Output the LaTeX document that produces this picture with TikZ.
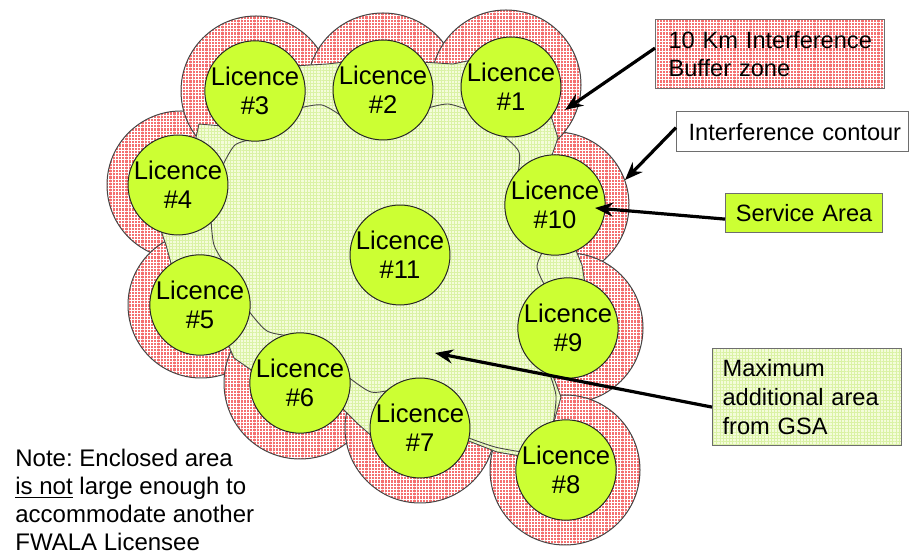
\documentclass[tikz,border=0pt]{standalone}
\usepackage{fontspec}
\setmainfont{Liberation Sans}
\usetikzlibrary{patterns.meta,arrows.meta,calc}

\definecolor{licgreen}{HTML}{CCFF33}
\definecolor{bufred}{RGB}{244,112,112}
\definecolor{areafill}{RGB}{244,252,218}
\definecolor{areagrid}{RGB}{218,242,165}
\definecolor{edgegray}{RGB}{70,70,70}
\definecolor{boxgray}{RGB}{110,110,110}

\tikzset{
  redhatch/.style={preaction={fill=bufred},
    pattern={Hatch[angle=0,distance=1.6pt,line width=0.5pt]}, pattern color=white},
  greenhatch/.style={preaction={fill=areafill},
    pattern={Hatch[angle=0,distance=1.6pt,line width=0.4pt]}, pattern color=areagrid},
  bufferring/.style={redhatch, draw=edgegray, line width=0.5pt},
  areaedge/.style={greenhatch, draw=edgegray, line width=0.45pt},
  licence/.style={circle, draw=black!85, line width=0.5pt, fill=licgreen,
    minimum size=49.5pt, inner sep=0pt, align=center,
    font=\fontsize{12.8}{14.5}\selectfont},
  labelbox/.style={draw=boxgray, line width=0.6pt, anchor=north west,
    inner ysep=0pt, font=\fontsize{11.8}{14}\selectfont},
  pointer/.style={-{Stealth[length=9pt,width=7pt]}, line width=1.6pt, black},
}

\begin{document}
\frenchspacing
\begin{tikzpicture}[x=0.5pt,y=-0.5pt]
\useasboundingbox (0,0) rectangle (910,560);

% centres of the licence service areas
\coordinate (c1)  at (511,87);
\coordinate (c2)  at (383,90);
\coordinate (c3)  at (255,91);
\coordinate (c4)  at (178,185);
\coordinate (c5)  at (200,305);
\coordinate (c6)  at (300,383);
\coordinate (c7)  at (420,428);
\coordinate (c8)  at (566,470);
\coordinate (c9)  at (568,328);
\coordinate (c10) at (555,205);
\coordinate (c11) at (400,255);

% 10 km interference buffer rings (later rings lie on top)
\foreach \x/\y/\r in {556/205/73, 568/328/75, 181/185/74, 201/305/73,
                      300/383/76, 420/428/75, 565/470/75, 256/91/75,
                      383/89/76, 506/85/75}
  \draw[bufferring] (\x,\y) circle[radius=\r];

% area between the service areas and the buffer rings
\draw[areaedge] (294,66) -- (327,64) -- (345,62) -- (421,62) -- (453,64) -- (472,60)
  -- (550,113) -- (558,138) -- (551,158) -- (575,248) -- (582,265) -- (585,284)
  -- (552,373) -- (561,397) -- (553,425) -- (520,456) -- (497,452) -- (466,440)
  -- (374,438) -- (358,424) -- (342,408) -- (254,372) -- (234,358) -- (228,344)
  -- (172,267) -- (166,245) -- (160,228) -- (195,142) -- (199,124) -- (222,126)
  -- cycle;

% maximum additional area enclosed by the ring of licences
\draw[areaedge]
  plot[smooth] coordinates {(300,108) (322,105) (343,117)}
  -- plot[smooth] coordinates {(428,108) (448,104) (468,110)}
  -- plot[smooth] coordinates {(500,133) (519,152) (517,178)}
  -- plot[smooth] coordinates {(543,251) (537,267) (545,286)}
  -- plot[smooth] coordinates {(549,372) (556,396) (553,425)}
  -- plot[smooth] coordinates {(522,452) (495,447) (466,437)}
  -- plot[smooth] coordinates {(394,389) (371,392) (347,376)}
  -- plot[smooth] coordinates {(292,336) (267,331) (248,310)}
  -- plot[smooth] coordinates {(226,266) (214,245) (211,219)}
  -- plot[smooth] coordinates {(222,167) (235,145) (255,139)}
  -- cycle;

% licence service areas
\node[licence] (l1)  at (c1)  {Licence\\\#1};
\node[licence] (l2)  at (c2)  {Licence\\\#2};
\node[licence] (l3)  at (c3)  {Licence\\\#3};
\node[licence] (l4)  at (c4)  {Licence\\\#4};
\node[licence] (l5)  at (c5)  {Licence\\\#5};
\node[licence] (l6)  at (c6)  {Licence\\\#6};
\node[licence] (l7)  at (c7)  {Licence\\\#7};
\node[licence] (l8)  at (c8)  {Licence\\\#8};
\node[licence] (l9)  at (c9)  {Licence\\\#9};
\node[licence] (l10) at (c10) {Licence\\\#10};
\node[licence] (l11) at (c11) {Licence\\\#11};

% legend boxes
\node[labelbox, redhatch, draw=boxgray, inner xsep=6.5pt, text width=101.5pt,
      minimum height=34.5pt, align=left] (buf) at (655,19)
  {\mbox{10 Km Interference}\\\mbox{Buffer zone}};
\node[labelbox, fill=white, inner xsep=6pt, text width=104pt,
      minimum height=20pt, align=left] (contour) at (676,111)
  {\mbox{Interference contour}};
\node[labelbox, fill=licgreen, inner xsep=0pt, text width=78.5pt,
      minimum height=19.5pt, align=center] (service) at (725,193)
  {\mbox{Service Area}};
\node[labelbox, greenhatch, draw=boxgray, inner xsep=5pt, text width=84.5pt,
      minimum height=48.5pt, align=left,
      font=\fontsize{11.8}{14.5}\selectfont] (maxarea) at (712,348)
  {Maximum\\\mbox{additional area}\\from GSA};

% pointer targets
\coordinate (bufTip)     at (565,110);
\coordinate (contourTip) at (625,180);
\coordinate (serviceTip) at (595,208);
\coordinate (maxTip)     at (435,353);

\draw[pointer] ($(buf.west)+(0,-6)$)      -- (bufTip);
\draw[pointer] ($(contour.west)+(0,-4)$)  -- (contourTip);
\draw[pointer] ($(service.west)+(0,6)$)   -- (serviceTip);
\draw[pointer] ($(maxarea.west)+(0,10)$)  -- (maxTip);

% note
\node[anchor=north west, inner sep=0pt, align=left,
      font=\fontsize{12}{14}\selectfont] (note) at (15,449)
  {Note: Enclosed area\\\underline{is not} large enough to\\accommodate another\\FWALA Licensee};
\end{tikzpicture}
\end{document}
